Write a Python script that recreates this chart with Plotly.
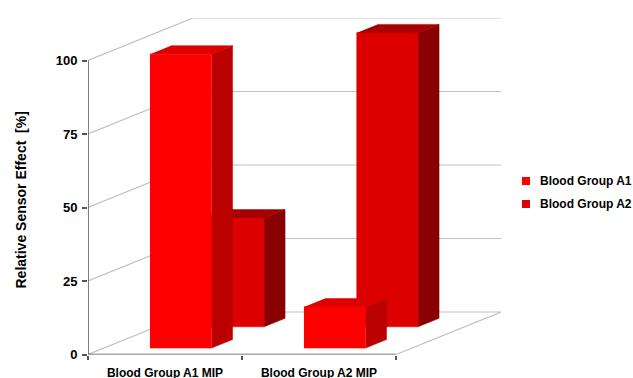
import plotly.graph_objects as go

# Chart content
categories = ["Blood Group A1 MIP", "Blood Group A2 MIP"]
series_names = ["Blood Group A1", "Blood Group A2"]
series_a1 = [100, 14]
series_a2 = [37, 100]
y_ticks = [0, 25, 50, 75, 100]
y_title = "Relative Sensor Effect  [%]"

# Face colours per series: front, top, side
face_colors = {
    "Blood Group A1": ("#ff0000", "#dd0000", "#bb0000"),
    "Blood Group A2": ("#dd0000", "#a60000", "#880000"),
}

W, H = 633, 378
X0, X1, Y0, Y100 = 88.0, 396.0, 354.5, 60.5
DEPTH_DX, DEPTH_DY = 105.0, 42.5
UNIT_X = (X1 - X0) / len(categories)
UNIT_Y = (Y0 - Y100) / 100.0
SHEAR_X = DEPTH_DX / UNIT_X / len(series_names)
SHEAR_Y = DEPTH_DY / UNIT_Y / len(series_names)
BAR_WIDTH = 0.4
BAR_DEPTH = 0.4
GRID = "#c0c0c0"
AXIS = "#555555"
FONT = "Liberation Sans"


def project(cat, value, depth):
    """Oblique projection of (category position, value, depth slot) to the 2D axes."""
    return cat + depth * SHEAR_X, value + depth * SHEAR_Y


def path(points):
    xs, ys = zip(*[project(*p) for p in points])
    return list(xs), list(ys)


fig = go.Figure()


def line(points, color, width):
    xs, ys = path(points)
    fig.add_trace(go.Scatter(x=xs, y=ys, mode="lines", line=dict(color=color, width=width),
                             hoverinfo="skip", showlegend=False, cliponaxis=False))


def face(points, color):
    xs, ys = path(points)
    fig.add_trace(go.Scatter(x=xs, y=ys, mode="lines", fill="toself", fillcolor=color,
                             line=dict(color=color, width=0.5), hoverinfo="skip",
                             showlegend=False, cliponaxis=False))


# Walls and floor
n_cat, n_ser = len(categories), len(series_names)
for v in y_ticks:
    line([(0, v, 0), (0, v, n_ser), (n_cat, v, n_ser)], GRID, 1.2)
line([(n_cat, 0, 0), (n_cat, 0, n_ser)], GRID, 1.2)

# Bars, rear series first
for depth_idx, (name, values) in reversed(list(enumerate(zip(series_names, [series_a1, series_a2])))):
    front, top, side = face_colors[name]
    d0 = depth_idx + (1 - BAR_DEPTH) / 2
    d1 = d0 + BAR_DEPTH
    for i, v in enumerate(values):
        a = i + (1 - BAR_WIDTH) / 2
        b = a + BAR_WIDTH
        face([(b, 0, d0), (b, 0, d1), (b, v, d1), (b, v, d0)], side)
        face([(a, v, d0), (b, v, d0), (b, v, d1), (a, v, d1)], top)
        face([(a, 0, d0), (b, 0, d0), (b, v, d0), (a, v, d0)], front)

# Axis lines along the front edge
line([(0, 0, 0), (0, 100, 0)], AXIS, 1.5)
line([(0, 0, 0), (n_cat, 0, 0)], AXIS, 1.5)


# Paper coordinates span the whole page because the margins are zero
def paper_x(px):
    return px / W


def paper_y(py):
    return 1 - py / H


# Legend drawn on the paper so its swatches sit tight against the labels
LEGEND_SWATCH_X, LEGEND_TEXT_X = 526.0, 538.0
LEGEND_ROWS_Y = [181.0, 204.0]
shapes, annotations = [], []
for name, row_y in zip(series_names, LEGEND_ROWS_Y):
    shapes.append(dict(type="rect", xref="paper", yref="paper", line=dict(width=0),
                       fillcolor=face_colors[name][0],
                       x0=paper_x(LEGEND_SWATCH_X - 4), x1=paper_x(LEGEND_SWATCH_X + 4),
                       y0=paper_y(row_y + 4), y1=paper_y(row_y - 4)))
    annotations.append(dict(text=name, xref="paper", yref="paper", showarrow=False,
                            x=paper_x(LEGEND_TEXT_X), y=paper_y(row_y), xanchor="left", yanchor="middle",
                            font=dict(family=FONT, size=12, color="#000000", weight=700)))

annotations.append(dict(text=y_title, xref="paper", yref="paper", showarrow=False, textangle=-90,
                        x=paper_x(20.5), y=paper_y(200.0), xanchor="center", yanchor="middle",
                        font=dict(family=FONT, size=14, color="#000000", weight=700)))

label_font = dict(family=FONT, size=12, color="#000000", weight=700)
number_font = dict(family=FONT, size=13, color="#000000", weight=700)
fig.update_layout(
    width=W, height=H, autosize=False,
    margin=dict(l=0, r=0, t=0, b=0),
    paper_bgcolor="white", plot_bgcolor="white",
    showlegend=False,
    shapes=shapes, annotations=annotations,
    xaxis=dict(
        automargin=False,
        domain=[X0 / W, (X1 + DEPTH_DX) / W],
        range=[0, n_cat + DEPTH_DX / UNIT_X],
        tickmode="array", tickvals=[i + 0.5 for i in range(n_cat)], ticktext=categories,
        ticks="", tickfont=label_font, showgrid=False, zeroline=False, showline=False,
        ticklabelstandoff=9,
        minor=dict(tickmode="array", tickvals=list(range(n_cat + 1)), ticks="outside",
                   ticklen=4, tickwidth=1.5, tickcolor=AXIS, showgrid=False),
    ),
    yaxis=dict(
        automargin=False,
        domain=[1 - Y0 / H, 1 - (Y100 - DEPTH_DY) / H],
        range=[0, 100 + DEPTH_DY / UNIT_Y],
        tickmode="array", tickvals=y_ticks, ticks="outside", ticklen=5, tickwidth=1.5, tickcolor=AXIS,
        tickfont=number_font, showgrid=False, zeroline=False, showline=False,
        ticklabelstandoff=2,
    ),
)

fig.write_html("out.html")
